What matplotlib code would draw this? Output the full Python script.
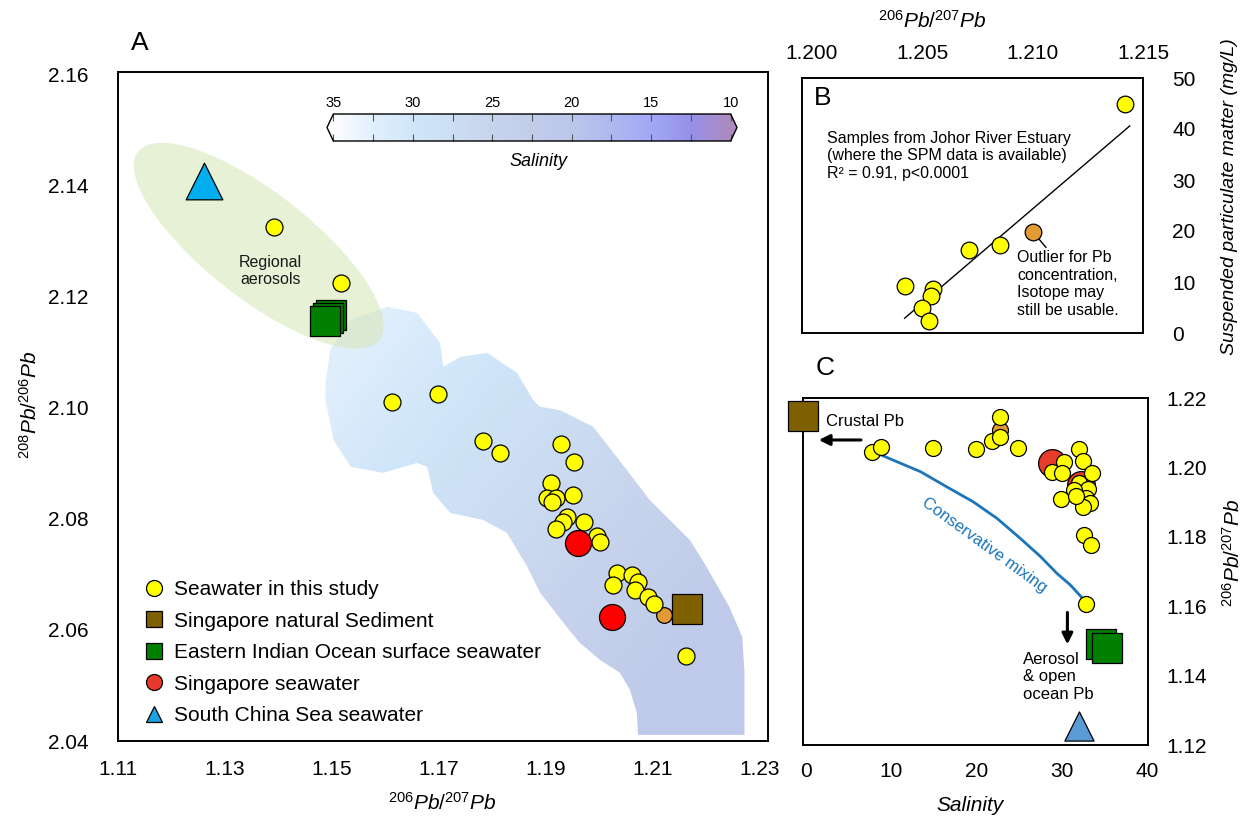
import numpy as np
import matplotlib
matplotlib.use("Agg")
import matplotlib.pyplot as plt
import matplotlib.transforms as mtransforms
from matplotlib.colors import LinearSegmentedColormap, Normalize
from matplotlib.patches import Ellipse, Polygon
from matplotlib.lines import Line2D
from matplotlib.cm import ScalarMappable

plt.rcParams['font.family'] = ['Liberation Sans', 'DejaVu Sans']
plt.rcParams['mathtext.fontset'] = 'custom'
plt.rcParams['mathtext.rm'] = 'Liberation Sans'
plt.rcParams['mathtext.it'] = 'Liberation Sans:italic'
plt.rcParams['mathtext.bf'] = 'Liberation Sans:bold'

########################## DATA
# Panel A: 208Pb/206Pb vs 206Pb/207Pb
sw_x = [1.1391, 1.1517, 1.1613, 1.1698, 1.1783, 1.1814, 1.1928, 1.1952, 1.1909, 1.1901,
        1.1919, 1.1912, 1.1950, 1.1939, 1.1932, 1.1918, 1.1971, 1.1996, 1.2001, 1.2032,
        1.2060, 1.2026, 1.2072, 1.2066, 1.2090, 1.2101, 1.2161]
sw_y = [2.1326, 2.1225, 2.1011, 2.1025, 2.0940, 2.0919, 2.0935, 2.0903, 2.0864, 2.0838,
        2.0838, 2.0831, 2.0843, 2.0804, 2.0795, 2.0782, 2.0795, 2.0770, 2.0759, 2.0702,
        2.0699, 2.0681, 2.0687, 2.0672, 2.0659, 2.0647, 2.0553]
outlier_x = [1.2120]
outlier_y = [2.0627]
sg_sw_x = [1.1960, 1.2024]
sg_sw_y = [2.0757, 2.0624]
sg_sed_x = [1.2164]
sg_sed_y = [2.0637]
eio_x = [1.1498, 1.1493, 1.1487]
eio_y = [2.1167, 2.1162, 2.1156]
scs_x = [1.1261]
scs_y = [2.1408]

# regional aerosol field centre
aerosol_centre = (1.1363, 2.1292)

# outline of the salinity-interpolated area
blob_x = [1.1488, 1.1497, 1.1535, 1.1604, 1.1659, 1.1702, 1.1708, 1.1740, 1.1790, 1.1846,
          1.1876, 1.1889, 1.1926, 1.1988, 1.2032, 1.2075, 1.2094, 1.2169, 1.2200, 1.2243,
          1.2267, 1.2271, 1.2271, 1.2072, 1.2070, 1.2057, 1.2038, 1.2001, 1.1963, 1.1939,
          1.1889, 1.1865, 1.1827, 1.1783, 1.1721, 1.1689, 1.1678, 1.1659, 1.1596, 1.1535,
          1.1503, 1.1488]
blob_y = [2.1045, 2.1105, 2.1159, 2.1182, 2.1171, 2.1117, 2.1074, 2.1092, 2.1099, 2.1063,
          2.1014, 2.1002, 2.0996, 2.0966, 2.0912, 2.0858, 2.0834, 2.0762, 2.0714, 2.0641,
          2.0587, 2.0523, 2.0411, 2.0411, 2.0450, 2.0492, 2.0523, 2.0546, 2.0577, 2.0605,
          2.0667, 2.0714, 2.0775, 2.0798, 2.0811, 2.0847, 2.0894, 2.0901, 2.0883, 2.0894,
          2.0942, 2.1014]

# salinity colour scale
cbar_vals = [10, 12.5, 15, 17.5, 20, 22.5, 25, 27.5, 30, 32.5, 35]
cbar_cols = ['#ac8abe', '#9691e8', '#a2a8f6', '#afb9f0', '#bcc6ec', '#c2cdea',
             '#c8d4ed', '#ccdef3', '#d0e6f9', '#e1effc', '#fcfdff']

legend_labels = ['Seawater in this study', 'Singapore natural Sediment',
                 'Eastern Indian Ocean surface seawater', 'Singapore seawater',
                 'South China Sea seawater']

# Panel B: SPM vs 206Pb/207Pb
b_x = [1.2142, 1.2071, 1.2085, 1.2042, 1.2055, 1.2054, 1.2050, 1.2053]
b_spm = [44.9, 16.3, 17.3, 9.3, 8.6, 7.2, 4.9, 2.4]
b_out_x = [1.2100]
b_out_spm = [19.9]
fit_x = [1.2042, 1.2144]
fit_spm = [2.9, 40.6]

# Panel C: 206Pb/207Pb vs salinity
c_sal = [7.7, 8.8, 14.9, 19.9, 21.8, 22.8, 22.8, 24.9, 32.0, 32.5, 30.3, 28.9, 30.0,
         33.5, 32.0, 33.1, 31.4, 29.9, 32.8, 33.3, 32.5, 31.6, 32.6, 33.4, 32.8]
c_ratio = [1.2045, 1.2058, 1.2056, 1.2053, 1.2076, 1.2146, 1.2087, 1.2057, 1.2053, 1.2018,
           1.2015, 1.1988, 1.1985, 1.1983, 1.1956, 1.1937, 1.1935, 1.1908, 1.1913, 1.1897,
           1.1887, 1.1918, 1.1805, 1.1776, 1.1606]
c_red_sal = [28.8, 32.3]
c_red_ratio = [1.2012, 1.1949]
c_out_sal = [22.8]
c_out_ratio = [1.2108]
c_sed_sal = [-0.3]
c_sed_ratio = [1.2149]
c_eio_sal = [34.6, 35.3]
c_eio_ratio = [1.1490, 1.1479]
c_scs_sal = [32.0]
c_scs_ratio = [1.1255]
mix_sal = [8.5, 10.6, 13.4, 16.5, 19.6, 22.4, 25.1, 27.5, 29.4, 31.0, 32.3]
mix_ratio = [1.2039, 1.2017, 1.1988, 1.1944, 1.1901, 1.1853, 1.1796, 1.1743, 1.1695,
             1.1661, 1.1626]

YEL = '#ffff00'
ORG = '#e29a35'
BRN = '#7f6000'
GRN = '#007f00'

########################## FIGURE
W, H = 1244, 821
fig = plt.figure(figsize=(W / 100, H / 100), dpi=100)


def px_axes(l, t, r, b):
    return fig.add_axes([l / W, 1 - b / H, (r - l) / W, (b - t) / H])


def ftext(x, y, s, **kw):
    fig.text(x / W, 1 - y / H, s, **kw)


def style_box(ax):
    for sp in ax.spines.values():
        sp.set_linewidth(1.4)
    ax.tick_params(length=0, labelsize=15)


########################## PANEL A
axA = px_axes(118, 72, 768, 741)
style_box(axA)
axA.set_xlim(1.11, 1.2315)
axA.set_ylim(2.04, 2.1605)
axA.set_xticks(np.arange(1.11, 1.2301, 0.02))
axA.set_yticks(np.arange(2.04, 2.1601, 0.02))
axA.xaxis.set_major_formatter(matplotlib.ticker.FormatStrFormatter('%.2f'))
axA.yaxis.set_major_formatter(matplotlib.ticker.FormatStrFormatter('%.2f'))
axA.tick_params(axis='x', pad=14)
axA.tick_params(axis='y', pad=21)

cmap = LinearSegmentedColormap.from_list(
    'sal', [((v - 10) / 25, c) for v, c in zip(cbar_vals, cbar_cols)])
norm = Normalize(10, 35)

# salinity shading, graded along the band and clipped to the outline
gx = np.linspace(1.11, 1.2315, 400)
gy = np.linspace(2.04, 2.1605, 400)
GX, GY = np.meshgrid(gx, gy)
u = (GX - 1.150) * 5362
v = (GY - 2.105) * 5550
d = np.array([360.0, -290.0])
t = (u * d[0] + v * d[1]) / (d @ d)
field = 32.3 - 11 * np.clip(t, 0, 1)
im = axA.imshow(field, origin='lower', extent=(1.11, 1.2315, 2.04, 2.1605),
                aspect='auto', cmap=cmap, norm=norm, zorder=0, interpolation='bilinear')
blob = Polygon(np.column_stack([blob_x, blob_y]), closed=True, fc='none', ec='none')
axA.add_patch(blob)
im.set_clip_path(blob)

# regional aerosols ellipse (sized in screen inches so it is not skewed)
etrans = fig.dpi_scale_trans + mtransforms.ScaledTranslation(
    aerosol_centre[0], aerosol_centre[1], axA.transData)
axA.add_patch(Ellipse((0, 0), 3.06, 1.06, angle=-38, transform=etrans,
                      fc='#d5e6b5', ec='none', alpha=0.55, zorder=1))
axA.text(1.1385, 2.1247, 'Regional\naerosols', ha='center', va='center',
         fontsize=11.5, linespacing=1.15, color='#1a1a1a', zorder=3)

mk = dict(edgecolors='k', linewidths=0.9)
axA.scatter(eio_x, eio_y, s=21.6 ** 2, marker='s', c=GRN, zorder=4, **mk)
axA.scatter(scs_x, scs_y, s=26.4 ** 2, marker='^', c='#00aeef', zorder=4, **mk)
axA.scatter(sg_sed_x, sg_sed_y, s=21.6 ** 2, marker='s', c=BRN, zorder=4, **mk)
axA.scatter(outlier_x, outlier_y, s=11.3 ** 2, c=ORG, zorder=4, **mk)
axA.scatter(sw_x, sw_y, s=12.2 ** 2, c=YEL, zorder=5, **mk)
axA.scatter(sg_sw_x, sg_sw_y, s=18.7 ** 2, c='#ff0000', zorder=6, **mk)

hk = dict(ls='none', mec='k', mew=0.9, ms=11.5)
handles = [Line2D([], [], marker='o', mfc=YEL, **hk),
           Line2D([], [], marker='s', mfc=BRN, **hk),
           Line2D([], [], marker='s', mfc=GRN, **hk),
           Line2D([], [], marker='o', mfc='#e8392b', **hk),
           Line2D([], [], marker='^', mfc='#1aa3e0', **hk)]
axA.legend(handles, legend_labels, loc='upper left',
           bbox_to_anchor=((144 - 118) / 650, (741 - 580) / 669),
           frameon=False, fontsize=15, handlelength=1.0, handletextpad=0.45,
           labelspacing=0.6, borderpad=0, borderaxespad=0)

ftext(140, 43, 'A', fontsize=19, ha='center', va='center')
ftext(442, 803, r'$^{206}\mathit{Pb}/^{207}\mathit{Pb}$', fontsize=15, ha='center', va='center')
ftext(30, 405, r'$^{208}\mathit{Pb}/^{206}\mathit{Pb}$', fontsize=15, ha='center',
      va='center', rotation=90)

# salinity colour bar
cax = px_axes(327, 114, 737, 141)
cb = fig.colorbar(ScalarMappable(norm=norm, cmap=cmap), cax=cax, orientation='horizontal',
                  extend='both', extendfrac=0.016)
cb.outline.set_linewidth(1.0)
cax.invert_xaxis()
cb.set_ticks([35, 30, 25, 20, 15, 10])
cax.set_xticks([32.5, 27.5, 22.5, 17.5, 12.5], minor=True)
cax.tick_params(which='both', direction='in', top=True, bottom=True, labeltop=True,
                labelbottom=False, length=5, width=0.8, color='#555555', labelsize=10.5, pad=3)
ftext(538, 161, 'Salinity', fontsize=13, style='italic', ha='center', va='center')

########################## PANEL B
axB = px_axes(802, 78, 1143, 333)
style_box(axB)
axB.set_xlim(1.19955, 1.21485)
axB.set_ylim(0, 50)
axB.xaxis.tick_top()
axB.yaxis.tick_right()
axB.set_xticks([1.200, 1.205, 1.210, 1.215])
axB.xaxis.set_major_formatter(matplotlib.ticker.FormatStrFormatter('%.3f'))
axB.set_yticks([0, 10, 20, 30, 40, 50])
axB.tick_params(axis='x', pad=11)
axB.tick_params(axis='y', pad=21)

axB.plot(fit_x, fit_spm, color='k', lw=1.0, zorder=2)
axB.plot([b_out_x[0], 1.2106], [b_out_spm[0], 16.8], color='k', lw=1.0, zorder=2)
axB.scatter(b_out_x, b_out_spm, s=12 ** 2, c=ORG, zorder=3, **mk)
axB.scatter(b_x, b_spm, s=12 ** 2, c=YEL, zorder=4, **mk)
axB.text(1.2007, 39.6, 'Samples from Johor River Estuary\n(where the SPM data is available)\n'
         'R\u00b2 = 0.91, p<0.0001', fontsize=11.5, va='top', ha='left', linespacing=1.2)
axB.text(1.2093, 16.2, 'Outlier for Pb\nconcentration,\nIsotope may\nstill be usable.',
         fontsize=11.5, va='top', ha='left', linespacing=1.2)

ftext(823, 98, 'B', fontsize=19, ha='center', va='center')
ftext(932, 21, r'$^{206}\mathit{Pb}/^{207}\mathit{Pb}$', fontsize=15, ha='center', va='center')
ftext(1230, 197, 'Suspended particulate matter (mg/L)', fontsize=14, style='italic',
      ha='center', va='center', rotation=90)

########################## PANEL C
axC = px_axes(803, 398, 1148, 745)
style_box(axC)
axC.set_xlim(-0.35, 40.1)
axC.set_ylim(1.12, 1.2195)
axC.yaxis.tick_right()
axC.set_xticks([0, 10, 20, 30, 40])
axC.set_yticks([1.12, 1.14, 1.16, 1.18, 1.20, 1.22])
axC.yaxis.set_major_formatter(matplotlib.ticker.FormatStrFormatter('%.2f'))
axC.tick_params(axis='x', pad=12)
axC.tick_params(axis='y', pad=13)

axC.plot(mix_sal, mix_ratio, color='#1b75bb', lw=2.0, zorder=2, solid_joinstyle='round')
axC.text(20.9, 1.1776, 'Conservative mixing', color='#1b75bb', fontsize=12,
         rotation=-36, ha='center', va='center', rotation_mode='anchor')
axC.scatter(c_sed_sal, c_sed_ratio, s=21.6 ** 2, marker='s', c=BRN, zorder=4,
            clip_on=False, **mk)
axC.scatter(c_eio_sal, c_eio_ratio, s=21.6 ** 2, marker='s', c=GRN, zorder=4, **mk)
axC.scatter(c_scs_sal, c_scs_ratio, s=21 ** 2, marker='^', c='#5b9bd5', zorder=4, **mk)
axC.scatter(c_red_sal, c_red_ratio, s=20 ** 2, c='#e63c2a', zorder=3, **mk)
axC.scatter(c_out_sal, c_out_ratio, s=11.5 ** 2, c=ORG, zorder=3, **mk)
axC.scatter(c_sal, c_ratio, s=11.5 ** 2, c=YEL, zorder=5, **mk)

arrow = dict(arrowstyle='-|>', color='k', lw=2.2, mutation_scale=16, shrinkA=0, shrinkB=0)
axC.annotate('', xy=(1.5, 1.2079), xytext=(6.45, 1.2079), arrowprops=arrow)
axC.annotate('', xy=(30.65, 1.1490), xytext=(30.65, 1.1582), arrowprops=arrow)
axC.text(2.3, 1.2133, 'Crustal Pb', fontsize=12, ha='left', va='center')
axC.text(25.4, 1.1468, 'Aerosol\n& open\nocean Pb', fontsize=12, ha='left', va='top',
         linespacing=1.2)

ftext(825, 368, 'C', fontsize=19, ha='center', va='center')
ftext(970, 805, 'Salinity', fontsize=15, style='italic', ha='center', va='center')
ftext(1233, 553, r'$^{206}\mathit{Pb}/^{207}\mathit{Pb}$', fontsize=15, ha='center',
      va='center', rotation=90)

fig.savefig('out.png', dpi=100, facecolor='white')
